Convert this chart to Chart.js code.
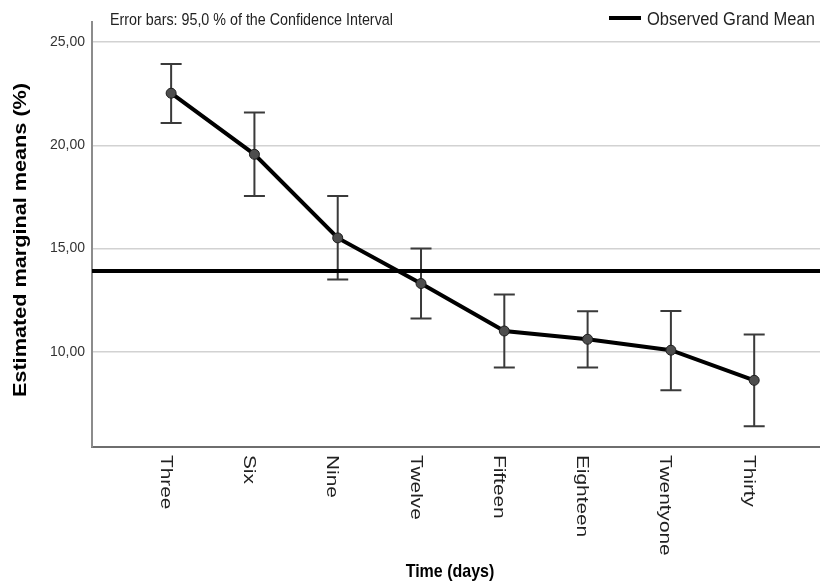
<!DOCTYPE html>
<html>
<head>
<meta charset="utf-8">
<script src="https://cdn.jsdelivr.net/npm/chart.js@4.4.0/dist/chart.umd.min.js"></script>
<style>
html, body { margin: 0; padding: 0; background: #fff; overflow: hidden; }
canvas { display: block; }
</style>
</head>
<body>
<canvas id="meansChart" width="820" height="583"></canvas>
<script>
/* Data */

const categories = ["Three", "Six", "Nine", "Twelve", "Fifteen", "Eighteen", "Twentyone", "Thirty"];
const means = [22.53, 19.57, 15.52, 13.31, 11.01, 10.61, 10.08, 8.62];
const upperCI = [23.95, 21.60, 17.55, 15.01, 12.78, 11.97, 11.98, 10.84];
const lowerCI = [21.09, 17.55, 13.51, 11.61, 9.24, 9.24, 8.14, 6.39];
const grandMean = 13.92;
const yTicks = [10, 15, 20, 25];

const xMin = 0.05, xMax = 8.79;
const yMin = 5.39, yMax = 25.98;

const FONT = "'Liberation Sans', Arial, sans-serif";
Chart.defaults.font.family = FONT;


/* Error bars, rotated labels, titles and legend */

const extras = {
    id: "extras",

    beforeDatasetsDraw(chart) {
        const { ctx, scales: { x, y } } = chart;
        ctx.save();
        ctx.strokeStyle = "#3a3a3a";
        ctx.lineWidth = 2;
        means.forEach((m, i) => {
            const px = x.getPixelForValue(i + 1);
            const top = y.getPixelForValue(upperCI[i]);
            const bot = y.getPixelForValue(lowerCI[i]);
            ctx.beginPath();
            ctx.moveTo(px, top); ctx.lineTo(px, bot);
            ctx.moveTo(px - 10.5, top); ctx.lineTo(px + 10.5, top);
            ctx.moveTo(px - 10.5, bot); ctx.lineTo(px + 10.5, bot);
            ctx.stroke();
        });
        ctx.restore();
    },

    afterDraw(chart) {
        const { ctx, scales: { x } } = chart;
        ctx.save();
        ctx.fillStyle = "#222";

        // category labels, reading top to bottom
        ctx.font = "16px " + FONT;
        ctx.textAlign = "left";
        ctx.textBaseline = "top";
        categories.forEach((c, i) => {
            const px = x.getPixelForValue(i + 1);
            ctx.save();
            ctx.translate(px + 2, 455);
            ctx.rotate(Math.PI / 2);
            ctx.scale(1.3, 1);
            ctx.fillText(c, 0, 0);
            ctx.restore();
        });

        // axis titles
        ctx.fillStyle = "#000";
        ctx.font = "bold 16px " + FONT;
        ctx.textAlign = "center";
        ctx.textBaseline = "middle";
        ctx.save();
        ctx.translate(450, 572);
        ctx.scale(1, 1.2);
        ctx.fillText("Time (days)", 0, 0);
        ctx.restore();

        ctx.font = "bold 19px " + FONT;
        ctx.save();
        ctx.translate(21, 240);
        ctx.rotate(-Math.PI / 2);
        ctx.scale(1.14, 1);
        ctx.fillText("Estimated marginal means (%)", 0, 0);
        ctx.restore();

        // header note
        ctx.fillStyle = "#222";
        ctx.font = "14.3px " + FONT;
        ctx.textAlign = "left";
        ctx.save();
        ctx.translate(110, 20);
        ctx.scale(1, 1.2);
        ctx.fillText("Error bars: 95,0 % of the Confidence Interval", 0, 0);
        ctx.restore();

        // legend
        ctx.strokeStyle = "#000";
        ctx.lineWidth = 4;
        ctx.beginPath();
        ctx.moveTo(609, 18);
        ctx.lineTo(641, 18);
        ctx.stroke();
        ctx.font = "16.5px " + FONT;
        ctx.save();
        ctx.translate(647, 20);
        ctx.scale(1, 1.1);
        ctx.fillText("Observed Grand Mean", 0, 0);
        ctx.restore();

        ctx.restore();
    }
};


/* Create Chart */

const ctx = document.getElementById("meansChart");

new Chart(ctx, {

    type: "line",

    data: {
        datasets: [
            {
                label: "Mean",
                data: means.map((m, i) => ({ x: i + 1, y: m })),
                borderColor: "#000",
                borderWidth: 4,
                pointRadius: 5,
                pointBackgroundColor: "#4d4d4d",
                pointBorderColor: "#1e1e1e",
                pointBorderWidth: 1,
                tension: 0
            },
            {
                label: "Observed Grand Mean",
                data: [{ x: xMin, y: grandMean }, { x: xMax, y: grandMean }],
                borderColor: "#000",
                borderWidth: 4,
                pointRadius: 0
            }
        ]
    },

    options: {
        responsive: false,
        animation: false,
        devicePixelRatio: 1,
        layout: {
            autoPadding: false,
            padding: { top: 22, left: 0, right: 0, bottom: 0 }
        },
        plugins: {
            legend: { display: false },
            tooltip: { enabled: false }
        },
        scales: {
            x: {
                type: "linear",
                min: xMin,
                max: xMax,
                ticks: { display: false },
                grid: { display: false },
                border: { display: true, color: "#6e6e6e", width: 2 },
                afterFit: scale => { scale.height = 136; }
            },
            y: {
                min: yMin,
                max: yMax,
                afterBuildTicks: scale => {
                    scale.ticks = yTicks.map(v => ({ value: v }));
                },
                ticks: {
                    font: { size: 14 },
                    color: "#333",
                    padding: 7,
                    callback: v => v.toFixed(2).replace(".", ",")
                },
                grid: { color: "#d2d2d2", lineWidth: 1.5, drawTicks: false },
                border: { display: true, color: "#8c8c8c", width: 2 },
                afterFit: scale => { scale.width = 92; }
            }
        }
    },

    plugins: [extras]

});
</script>
</body>
</html>
